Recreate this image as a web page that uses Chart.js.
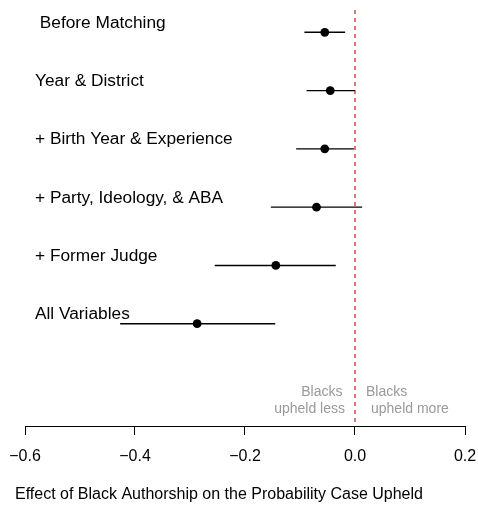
<!DOCTYPE html>
<html>
<head>
<meta charset="utf-8">
<script src="https://cdn.jsdelivr.net/npm/chart.js@4/dist/chart.umd.min.js"></script>
<style>
  html, body { margin: 0; padding: 0; background: #ffffff; }
  #wrap { width: 478px; height: 506px; }
</style>
</head>
<body>
<div id="wrap"><canvas id="c" width="478" height="506"></canvas></div>
<script>
// ---- data ----
const categories = [" Before Matching", "Year & District", "+ Birth Year & Experience",
                    "+ Party, Ideology, & ABA", "+ Former Judge", "All Variables"];
const estimates = [-0.055, -0.045, -0.055, -0.070, -0.144, -0.287];
const lowerCI   = [-0.092, -0.088, -0.107, -0.153, -0.255, -0.427];
const upperCI   = [-0.018,  0.000, -0.002,  0.013, -0.035, -0.145];
const rowIndex  = [1, 2, 3, 4, 5, 6];
const tickValues = [-0.6, -0.4, -0.2, 0.0, 0.2];
const tickLabels = ["\u22120.6", "\u22120.4", "\u22120.2", "0.0", "0.2"];
const referenceValue = 0;
const noteLess = ["Blacks", "upheld less"];
const noteMore = ["Blacks", "upheld more"];
const axisTitle = "Effect of Black Authorship on the Probability Case Upheld";

const FONT = "'Liberation Sans', Arial, Helvetica, sans-serif";

const points = rowIndex.map((r, i) => ({ x: estimates[i], y: r }));

const forestPlugin = {
  id: 'forest',
  beforeDatasetsDraw(chart) {
    const ctx = chart.ctx, xs = chart.scales.x, ys = chart.scales.y, ca = chart.chartArea;
    ctx.save();
    // reference line
    const x0 = xs.getPixelForValue(referenceValue);
    ctx.strokeStyle = 'rgb(200,50,45)';
    ctx.lineWidth = 1.3;
    ctx.setLineDash([4, 4]);
    ctx.beginPath();
    ctx.moveTo(x0, ca.top + 2);
    ctx.lineTo(x0, ca.bottom);
    ctx.stroke();
    ctx.setLineDash([]);
    // confidence intervals
    ctx.strokeStyle = '#000';
    ctx.lineWidth = 1.4;
    rowIndex.forEach((r, i) => {
      const y = ys.getPixelForValue(r);
      ctx.beginPath();
      ctx.moveTo(xs.getPixelForValue(lowerCI[i]), y);
      ctx.lineTo(xs.getPixelForValue(upperCI[i]), y);
      ctx.stroke();
    });
    ctx.restore();
  },
  afterDraw(chart) {
    const ctx = chart.ctx, xs = chart.scales.x, ys = chart.scales.y, ca = chart.chartArea;
    ctx.save();
    // row labels
    ctx.fillStyle = '#000';
    ctx.font = '17.3px ' + FONT;
    ctx.textAlign = 'left';
    ctx.textBaseline = 'alphabetic';
    rowIndex.forEach((r, i) => {
      ctx.fillText(categories[i], ca.left + 10, ys.getPixelForValue(r) - 4.5);
    });
    // notes around reference line
    const x0 = xs.getPixelForValue(referenceValue);
    ctx.fillStyle = '#999999';
    ctx.font = '14px ' + FONT;
    ctx.textAlign = 'right';
    ctx.fillText(noteLess[0], x0 - 12.5, ca.bottom - 30);
    ctx.fillText(noteLess[1], x0 - 10, ca.bottom - 13);
    ctx.textAlign = 'left';
    ctx.fillText(noteMore[0], x0 + 11, ca.bottom - 30);
    ctx.fillText(noteMore[1], x0 + 16, ca.bottom - 13);
    // axis title
    ctx.fillStyle = '#000';
    ctx.font = '16px ' + FONT;
    ctx.textAlign = 'left';
    ctx.fillText(axisTitle, 15, chart.height - 7);
    ctx.restore();
  }
};

new Chart(document.getElementById('c'), {
  type: 'scatter',
  data: {
    datasets: [{
      data: points,
      pointRadius: 4.4,
      pointHoverRadius: 4.4,
      pointBackgroundColor: '#000',
      pointBorderColor: '#000',
      pointBorderWidth: 0
    }]
  },
  options: {
    responsive: false,
    devicePixelRatio: 1,
    animation: false,
    events: [],
    layout: { padding: { left: 25, right: 13, top: 8, bottom: 0 } },
    plugins: { legend: { display: false }, tooltip: { enabled: false } },
    scales: {
      x: {
        type: 'linear',
        min: -0.6,
        max: 0.2,
        afterBuildTicks: (s) => { s.ticks = tickValues.map(v => ({ value: v })); },
        afterFit: (s) => { s.height = 80; s.paddingLeft = 0; s.paddingRight = 0; },
        ticks: {
          autoSkip: false,
          maxRotation: 0,
          padding: 12,
          color: '#000',
          font: { family: FONT, size: 16 },
          callback: (v, i) => tickLabels[i]
        },
        grid: {
          display: true,
          drawOnChartArea: false,
          drawTicks: true,
          tickLength: 9,
          color: '#000',
          tickColor: '#000',
          tickWidth: 1
        },
        border: { display: true, color: '#000', width: 1 }
      },
      y: {
        type: 'linear',
        display: false,
        reverse: true,
        min: 0.583,
        max: 7.755
      }
    }
  },
  plugins: [forestPlugin]
});
</script>
</body>
</html>
